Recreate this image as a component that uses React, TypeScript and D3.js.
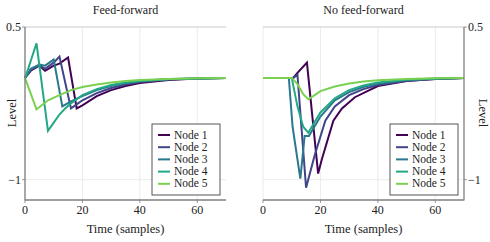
import React from "react";
import * as d3 from "d3";

const nodeNames = ["Node 1", "Node 2", "Node 3", "Node 4", "Node 5"];
const nodeColors = ["#440154", "#414487", "#2a788e", "#22a884", "#7ad151"];
const xTickValues = [0, 20, 40, 60];
const yTickValues = [0.5, -1];

// feed-forward, [sample, level]
const ffNode1 = [[0, 0], [2, 0.07], [5, 0.12], [7, 0.07], [10, 0.12], [12, 0.14], [15, 0.2], [18, -0.3], [20, -0.27], [25, -0.18], [30, -0.12], [35, -0.08], [40, -0.05], [50, -0.02], [60, -0.007], [70, 0]];
const ffNode2 = [[0, 0], [2, 0.08], [5, 0.12], [7, 0.09], [10, 0.15], [12, 0.21], [16, -0.3], [18, -0.26], [20, -0.22], [25, -0.15], [30, -0.1], [35, -0.065], [40, -0.04], [50, -0.016], [60, -0.006], [70, 0]];
const ffNode3 = [[0, 0], [2, 0.09], [5, 0.13], [7, 0.12], [10, 0.18], [13, -0.28], [16, -0.23], [20, -0.18], [25, -0.12], [30, -0.08], [35, -0.05], [40, -0.032], [50, -0.013], [60, -0.005], [70, 0]];
const ffNode4 = [[0, 0], [1, 0.08], [4, 0.34], [8, -0.52], [10, -0.44], [12, -0.36], [14, -0.3], [16, -0.25], [20, -0.17], [25, -0.11], [30, -0.07], [35, -0.045], [40, -0.03], [50, -0.012], [60, -0.005], [70, 0]];
const ffNode5 = [[0, 0], [4, -0.31], [8, -0.22], [12, -0.17], [16, -0.12], [20, -0.09], [25, -0.065], [30, -0.045], [35, -0.03], [40, -0.02], [50, -0.01], [60, -0.004], [70, 0]];

// no feed-forward
const nfNode1 = [[0, 0], [10.5, 0], [12, 0.05], [15.3, 0.15], [19.2, -0.94], [20.5, -0.8], [24.5, -0.42], [27.5, -0.3], [32, -0.19], [40, -0.08], [50, -0.03], [60, -0.01], [70, 0]];
const nfNode2 = [[0, 0], [10.5, 0], [12, 0.03], [15, -1.08], [18, -0.76], [21.7, -0.42], [25, -0.28], [30, -0.17], [35, -0.11], [40, -0.07], [50, -0.028], [60, -0.01], [70, 0]];
const nfNode3 = [[0, 0], [9, 0], [10.3, -0.48], [13, -0.99], [14.5, -0.57], [16, -0.57], [20, -0.38], [25, -0.22], [30, -0.14], [35, -0.09], [40, -0.055], [50, -0.022], [60, -0.008], [70, 0]];
const nfNode4 = [[0, 0], [10, 0], [12, -0.28], [14, -0.48], [15.8, -0.54], [17, -0.48], [20, -0.34], [25, -0.2], [30, -0.12], [35, -0.075], [40, -0.045], [50, -0.018], [60, -0.007], [70, 0]];
const nfNode5 = [[0, 0], [10, 0], [12, -0.06], [14, -0.16], [15.8, -0.21], [18, -0.17], [20, -0.13], [25, -0.085], [30, -0.055], [35, -0.036], [40, -0.024], [50, -0.01], [60, -0.004], [70, 0]];

const ffSeries = [ffNode1, ffNode2, ffNode3, ffNode4, ffNode5];
const nfSeries = [nfNode1, nfNode2, nfNode3, nfNode4, nfNode5];

const textStyle = { fontFamily: "'Liberation Serif', 'DejaVu Serif', serif" };
const axisColor = "#7f7f7f";
const gridColor = "#e6e6e6";

const top = 27;
const bottom = 200;

type PanelProps = {
  left: number;
  right: number;
  title: string;
  series: number[][][];
  yAxisRight?: boolean;
};

const Panel = ({ left, right, title, series, yAxisRight = false }: PanelProps) => {
  const x = d3.scaleLinear().domain([0, 70]).range([left, right]);
  const y = d3.scaleLinear().domain([-1.2, 0.5]).range([bottom, top]);
  const line = d3
    .line<number[]>()
    .x((d) => x(d[0]))
    .y((d) => y(d[1]));

  const yAxisX = yAxisRight ? right : left;
  const cx = (left + right) / 2;
  const legX = right - 74;
  const legY = 124;

  return (
    <g style={textStyle}>
      {/* grid */}
      {xTickValues.map((t) => (
        <line key={"gx" + t} x1={x(t)} x2={x(t)} y1={top} y2={bottom} stroke={gridColor} strokeWidth={0.8} />
      ))}
      {yTickValues.map((t) => (
        <line key={"gy" + t} x1={left} x2={right} y1={y(t)} y2={y(t)} stroke={t === 0.5 ? "#bdbdbd" : gridColor} strokeWidth={0.8} />
      ))}

      {/* data */}
      {series.map((s, i) => (
        <path key={i} d={line(s) || ""} fill="none" stroke={nodeColors[i]} strokeWidth={2} strokeLinejoin="miter" />
      ))}

      {/* axes */}
      <line x1={yAxisX} x2={yAxisX} y1={top} y2={bottom + 0.5} stroke={axisColor} strokeWidth={1.3} />
      <line x1={left} x2={right} y1={bottom} y2={bottom} stroke={axisColor} strokeWidth={1.3} />
      {xTickValues.map((t) => (
        <g key={"xt" + t}>
          <line x1={x(t)} x2={x(t)} y1={bottom} y2={bottom + 3} stroke={axisColor} strokeWidth={0.8} />
          <text x={x(t)} y={214} textAnchor="middle" fontSize={12} fill="#222">
            {t}
          </text>
        </g>
      ))}
      {yTickValues.map((t) => (
        <g key={"yt" + t}>
          <line
            x1={yAxisX}
            x2={yAxisRight ? yAxisX + 3 : yAxisX - 3}
            y1={y(t)}
            y2={y(t)}
            stroke={axisColor}
            strokeWidth={0.8}
          />
          <text
            x={yAxisRight ? yAxisX + 4 : yAxisX - 4}
            y={y(t) + 4}
            textAnchor={yAxisRight ? "start" : "end"}
            fontSize={12}
            fill="#222"
          >
            {t === -1 ? "\u22121" : String(t)}
          </text>
        </g>
      ))}

      {/* labels */}
      <text x={cx} y={14} textAnchor="middle" fontSize={12} fill="#222">
        {title}
      </text>
      <text x={cx} y={233} textAnchor="middle" fontSize={12.5} fill="#222">
        Time (samples)
      </text>
      {yAxisRight ? (
        <text transform={`translate(479,113) rotate(90)`} textAnchor="middle" fontSize={12.5} fill="#222">
          Level
        </text>
      ) : (
        <text transform={`translate(16,113) rotate(-90)`} textAnchor="middle" fontSize={12.5} fill="#222">
          Level
        </text>
      )}

      {/* legend */}
      <rect x={legX} y={legY} width={68} height={71} fill="white" stroke="#444" strokeWidth={0.9} />
      {nodeNames.map((n, i) => (
        <g key={n}>
          <line
            x1={legX + 6}
            x2={legX + 18}
            y1={legY + 11 + i * 12.2}
            y2={legY + 11 + i * 12.2}
            stroke={nodeColors[i]}
            strokeWidth={2}
          />
          <text x={legX + 22} y={legY + 14.5 + i * 12.2} fontSize={11.5} fill="#222">
            {n}
          </text>
        </g>
      ))}
    </g>
  );
};

export default function App() {
  return (
    <svg width={490} height={242} style={{ position: "absolute", left: 0, top: 0, background: "white" }}>
      <Panel left={25} right={226} title="Feed-forward" series={ffSeries} />
      <Panel left={263} right={464} title="No feed-forward" series={nfSeries} yAxisRight />
    </svg>
  );
}
